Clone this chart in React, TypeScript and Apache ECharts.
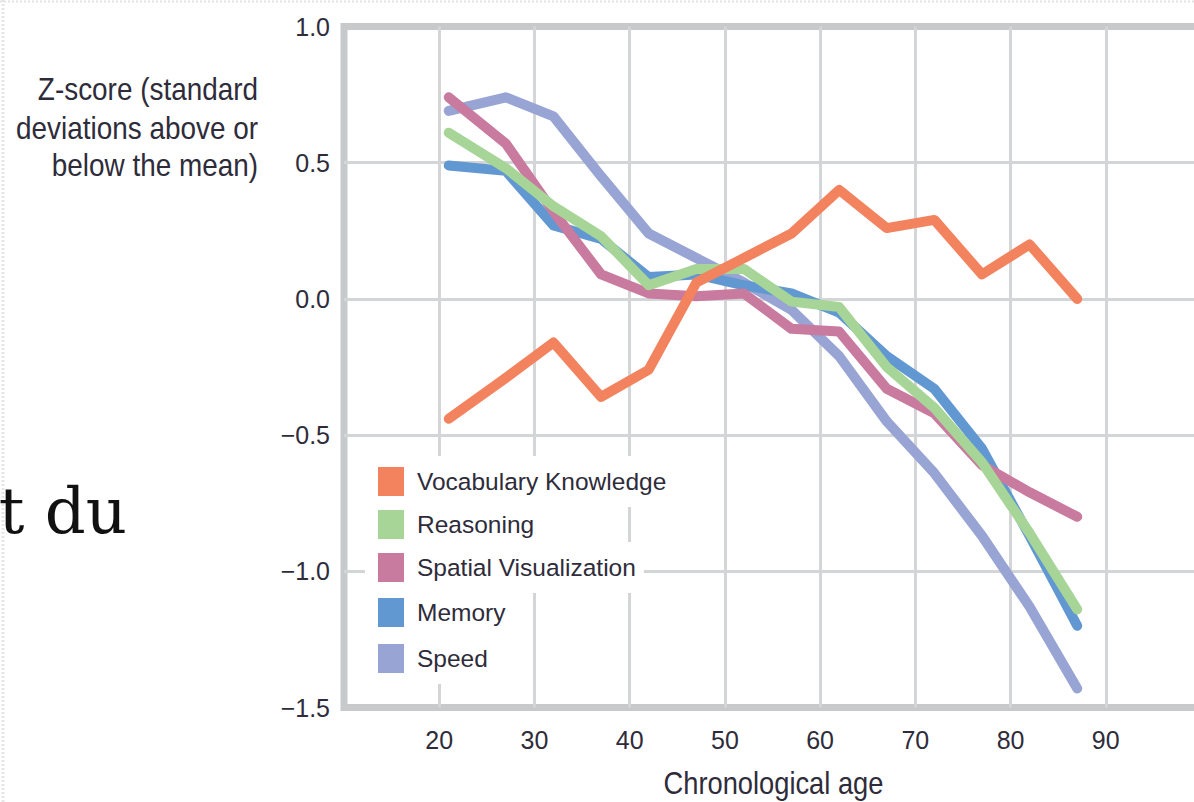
import React, { useEffect, useRef } from "react";
import * as echarts from "echarts";

// ---- data ----
const ages = [21, 27, 32, 37, 42, 47, 52, 57, 62, 67, 72, 77, 82, 87];
const vocabulary = [-0.44, -0.29, -0.16, -0.36, -0.26, 0.06, 0.15, 0.24, 0.4, 0.26, 0.29, 0.09, 0.2, 0.0];
const reasoning = [0.61, 0.48, 0.34, 0.23, 0.05, 0.11, 0.11, -0.01, -0.03, -0.25, -0.4, -0.6, -0.86, -1.14];
const spatial = [0.74, 0.57, 0.32, 0.09, 0.02, 0.01, 0.02, -0.11, -0.12, -0.33, -0.42, -0.61, -0.71, -0.8];
const memory = [0.49, 0.47, 0.27, 0.22, 0.08, 0.09, 0.05, 0.02, -0.05, -0.21, -0.33, -0.55, -0.87, -1.2];
const speed = [0.69, 0.74, 0.67, 0.45, 0.24, 0.15, 0.06, -0.04, -0.21, -0.45, -0.64, -0.87, -1.13, -1.43];

const seriesNames = ["Vocabulary Knowledge", "Reasoning", "Spatial Visualization", "Memory", "Speed"];
const xTickLabels = ["20", "30", "40", "50", "60", "70", "80", "90"];
const yTickValues = [1, 0.5, 0, -0.5, -1, -1.5];
const yTickLabels = ["1.0", "0.5", "0.0", "\u22120.5", "\u22121.0", "\u22121.5"];
const yTitleLines = ["Z-score (standard", "deviations above or", "below the mean)"];
const xTitle = "Chronological age";
const sideText = "t du";

const colors: Record<string, string> = {
  "Vocabulary Knowledge": "#F2835E",
  Reasoning: "#A6D597",
  "Spatial Visualization": "#C97A9F",
  Memory: "#6298D1",
  Speed: "#97A4D4",
};

const sans = "'Liberation Sans', Arial, sans-serif";
const textColor = "#2e2c3a";

export default function App() {
  const ref = useRef<HTMLDivElement>(null);

  useEffect(() => {
    if (!ref.current) return;
    const chart = echarts.init(ref.current, undefined, { renderer: "svg" });

    const valuesByName: Record<string, number[]> = {
      "Vocabulary Knowledge": vocabulary,
      Reasoning: reasoning,
      "Spatial Visualization": spatial,
      Memory: memory,
      Speed: speed,
    };
    // drawing order (bottom to top)
    const drawOrder = ["Speed", "Memory", "Spatial Visualization", "Reasoning", "Vocabulary Knowledge"];
    const series = drawOrder.map((name) => ({
      name,
      type: "line",
      data: ages.map((a, i) => [a, valuesByName[name][i]]),
      showSymbol: false,
      symbol: "none",
      color: colors[name],
      itemStyle: { color: colors[name] },
      lineStyle: { color: colors[name], width: 10, cap: "round", join: "round" },
      emphasis: { disabled: true },
      silent: true,
    }));

    const legendTops = [467, 510, 553, 598, 644];
    const legends = seriesNames.map((name, i) => ({
      data: [name],
      orient: "vertical",
      left: 365,
      top: legendTops[i] - 11,
      icon: "rect",
      itemWidth: 26,
      itemHeight: 29,
      backgroundColor: "#ffffff",
      padding: [11, 8, 11, 13],
      selectedMode: false,
      textStyle: {
        fontFamily: sans,
        fontSize: 24.5,
        color: textColor,
        padding: [0, 0, 0, 8],
      },
    }));

    chart.setOption({
      animation: false,
      backgroundColor: "#ffffff",
      grid: {
        left: 344,
        top: 26.5,
        right: 19,
        bottom: 94.5,
        show: true,
        borderColor: "#c8c9cb",
        borderWidth: 7,
        backgroundColor: "#ffffff",
      },
      legend: legends,
      xAxis: {
        type: "value",
        min: 10,
        max: 100,
        interval: 10,
        axisLine: { show: false },
        axisTick: { show: false },
        axisLabel: {
          margin: 20,
          fontFamily: sans,
          fontSize: 25,
          color: textColor,
          formatter: (v: number) => (xTickLabels.includes(String(v)) ? String(v) : ""),
        },
        splitLine: {
          show: true,
          showMinLine: false,
          showMaxLine: false,
          lineStyle: { color: "#d4d5d7", width: 3 },
        },
      },
      yAxis: {
        type: "value",
        min: -1.5,
        max: 1,
        interval: 0.5,
        axisLine: { show: false },
        axisTick: { show: false },
        axisLabel: {
          margin: 14,
          fontFamily: sans,
          fontSize: 25,
          color: textColor,
          formatter: (v: number) => {
            const idx = yTickValues.findIndex((t) => Math.abs(t - v) < 1e-9);
            return idx >= 0 ? yTickLabels[idx] : "";
          },
        },
        splitLine: {
          show: true,
          showMinLine: false,
          showMaxLine: false,
          lineStyle: { color: "#d4d5d7", width: 3 },
        },
      },
      graphic: [
        {
          type: "line",
          shape: { x1: 0, y1: 1.5, x2: 1194, y2: 1.5 },
          style: { stroke: "#e2e2e2", lineWidth: 2, lineDash: [2, 2] },
          silent: true,
        },
        {
          type: "line",
          shape: { x1: 3, y1: 0, x2: 3, y2: 802 },
          style: { stroke: "#e6e6e6", lineWidth: 3, lineDash: [2, 2] },
          silent: true,
        },
        ...yTitleLines.map((t, i) => ({
          type: "text",
          x: 258,
          y: [89, 128, 165][i],
          scaleX: 0.9,
          style: {
            text: t,
            fontFamily: sans,
            fontSize: 31,
            fill: textColor,
            align: "right",
            verticalAlign: "middle",
          },
          silent: true,
        })),
        {
          type: "text",
          x: 773.5,
          y: 783,
          scaleX: 0.88,
          style: {
            text: xTitle,
            fontFamily: sans,
            fontSize: 31,
            fill: textColor,
            align: "center",
            verticalAlign: "middle",
          },
          silent: true,
        },
        {
          type: "text",
          x: 127,
          y: 511,
          style: {
            text: sideText,
            fontFamily: "'DejaVu Serif', 'Liberation Serif', serif",
            fontSize: 64,
            fill: "#111111",
            align: "right",
            verticalAlign: "middle",
          },
          silent: true,
        },
      ],
      series,
    });

    return () => chart.dispose();
  }, []);

  return (
    <div
      style={{
        position: "fixed",
        left: 0,
        top: 0,
        width: 1194,
        height: 802,
        overflow: "hidden",
        background: "#fff",
      }}
    >
      <div ref={ref} style={{ width: 1220, height: 802 }} />
    </div>
  );
}
